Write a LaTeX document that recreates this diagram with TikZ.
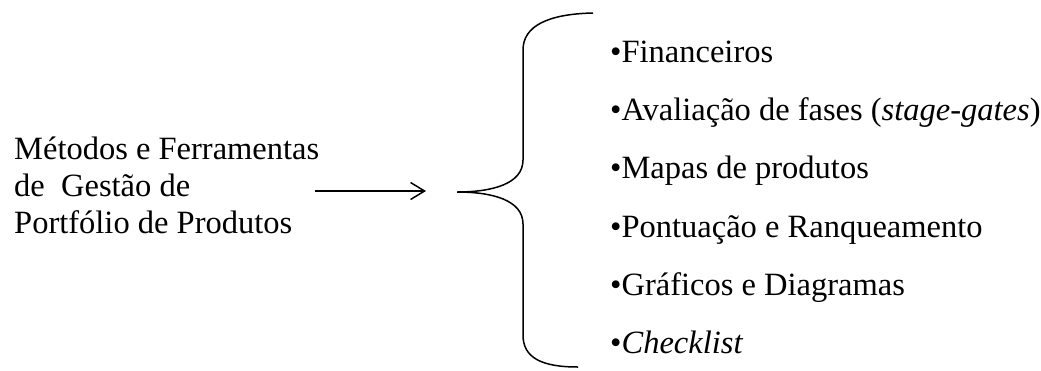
\documentclass[tikz,border=0pt]{standalone}
\usepackage{fontspec}
\setmainfont{Liberation Serif}
\usetikzlibrary{arrows.meta}
\begin{document}
\begin{tikzpicture}[x=1pt,y=-1pt,
  label/.style={anchor=base west,inner sep=0pt,font=\fontsize{32.5}{32.5}\selectfont},
  item/.style={label},
  stroke/.style={line width=1.5pt,black}]
\useasboundingbox (0,0) rectangle (1041,370);

% left caption, three lines
\node[label] (t1) at (14,159) {Métodos e Ferramentas};
\node[label] (t2) at (14,196) {de\ \ Gestão de};
\node[label] (t3) at (14,233) {Portfólio de Produtos};

% arrow into the brace
\coordinate (arrS) at (315,191);
\coordinate (arrE) at (426,191);
\draw[stroke,-{Straight Barb[length=14pt,width=17pt,line width=1.5pt]}] (arrS) -- (arrE);

% curly brace
\coordinate (btop) at (593,13);
\coordinate (btip) at (457,192);
\coordinate (bbot) at (578,367);
\draw[stroke] (btop) .. controls (548,14) and (523,26) .. (523,50) -- (523,160)
  .. controls (523,184) and (492,192) .. (btip)
  .. controls (492,192) and (523,200) .. (523,224) -- (523,335)
  .. controls (523,358) and (542,367) .. (bbot);

% list of methods
\node[item] (i1) at (610,62)  {•Financeiros};
\node[item] (i2) at (610,120) {•Avaliação de fases (\textit{stage-gates})};
\node[item] (i3) at (610,178) {•Mapas de produtos};
\node[item] (i4) at (610,237) {•Pontuação e Ranqueamento};
\node[item] (i5) at (610,295) {•Gráficos e Diagramas};
\node[item] (i6) at (610,353) {•\textit{Checklist}};
\end{tikzpicture}
\end{document}
